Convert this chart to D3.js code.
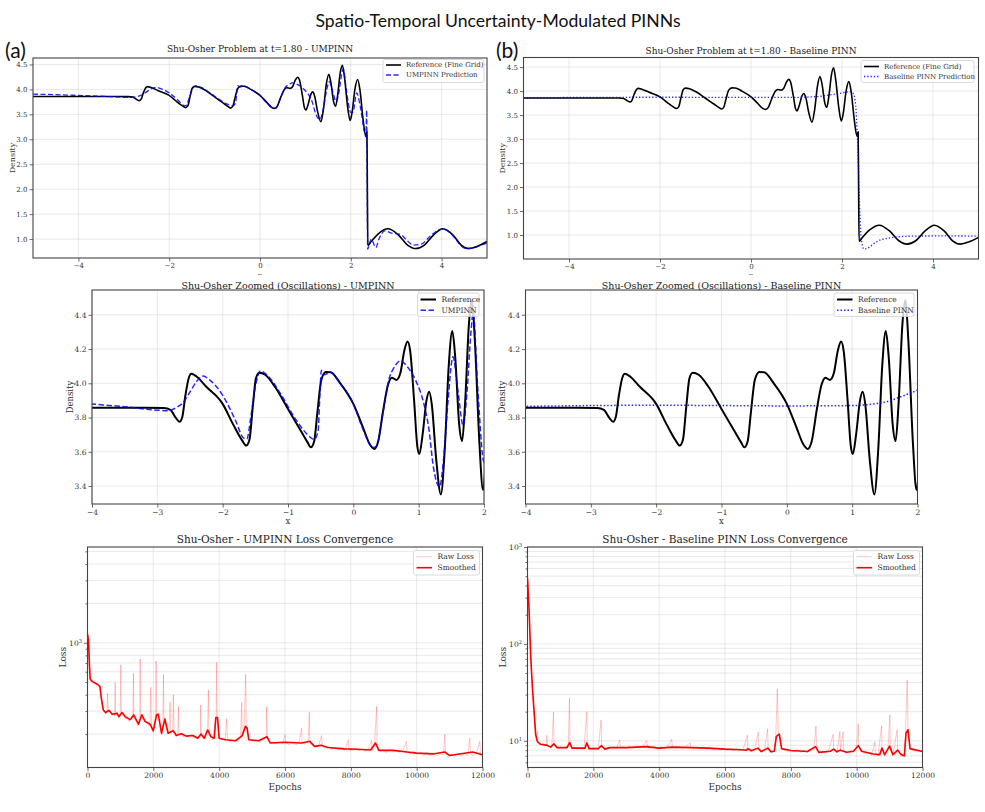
<!DOCTYPE html>
<html>
<head>
<meta charset="utf-8">
<script src="https://cdn.jsdelivr.net/npm/d3@7"></script>
<style>
body { margin: 0; background: #fff; }
svg { display: block; }
</style>
</head>
<body>
<svg id="fig" width="985" height="812"></svg>
<script>
// Reference solution (fine grid), density vs x
const referenceDensity = [
    [-5, 3.857], [-4, 3.857], [-3.2, 3.857], [-2.9, 3.856], [-2.8, 3.845], [-2.72, 3.80], [-2.66, 3.775],
    [-2.62, 3.80], [-2.57, 3.93], [-2.52, 4.03], [-2.48, 4.056], [-2.4, 4.04], [-2.25, 3.98], [-2.0, 3.88],
    [-1.84, 3.76], [-1.7, 3.665], [-1.64, 3.636], [-1.59, 3.67], [-1.54, 3.86], [-1.49, 4.03], [-1.44, 4.061],
    [-1.35, 4.05], [-1.2, 3.98], [-1.0, 3.85], [-0.8, 3.72], [-0.7, 3.655], [-0.65, 3.626], [-0.6, 3.66],
    [-0.55, 3.83], [-0.49, 4.02], [-0.42, 4.066], [-0.35, 4.065], [-0.2, 4.00], [0, 3.88], [0.15, 3.74],
    [0.25, 3.645], [0.32, 3.616], [0.38, 3.66], [0.46, 3.85], [0.53, 3.99], [0.59, 4.033], [0.66, 4.02],
    [0.72, 4.06], [0.78, 4.19], [0.83, 4.244], [0.87, 4.19], [0.93, 3.90], [0.98, 3.63], [1.01, 3.587],
    [1.06, 3.70], [1.12, 3.90], [1.16, 3.951], [1.2, 3.88], [1.27, 3.55], [1.34, 3.351], [1.4, 3.62],
    [1.46, 4.10], [1.515, 4.305], [1.56, 4.15], [1.62, 3.76], [1.665, 3.663], [1.71, 3.88], [1.77, 4.35],
    [1.815, 4.486], [1.86, 4.25], [1.93, 3.65], [1.985, 3.377], [2.03, 3.55], [2.09, 4.0], [2.15, 4.198],
    [2.2, 4.0], [2.27, 3.4], [2.33, 3.06], [2.355, 3.15], [2.365, 2.0], [2.375, 0.87], [2.45, 0.95],
    [2.6, 1.1], [2.82, 1.205], [3.05, 1.08], [3.25, 0.88], [3.43, 0.81], [3.62, 0.88], [3.82, 1.08],
    [4.03, 1.205], [4.25, 1.08], [4.43, 0.88], [4.6, 0.81], [4.8, 0.86], [5.0, 0.95]
];

// UMPINN prediction
const umpinnDensity = [
    [-5, 3.905], [-4.5, 3.895], [-4, 3.879], [-3.5, 3.863], [-3.0, 3.843], [-2.85, 3.84], [-2.7, 3.86],
    [-2.6, 3.89], [-2.5, 3.95], [-2.4, 4.01], [-2.3, 4.042], [-2.2, 4.02], [-2.0, 3.93], [-1.8, 3.78],
    [-1.68, 3.68], [-1.63, 3.675], [-1.57, 3.80], [-1.5, 3.98], [-1.42, 4.072], [-1.3, 4.04], [-1.1, 3.93],
    [-0.9, 3.80], [-0.7, 3.70], [-0.6, 3.672], [-0.54, 3.72], [-0.51, 3.95], [-0.49, 4.075], [-0.45, 4.05],
    [-0.35, 4.064], [-0.2, 4.00], [0, 3.88], [0.15, 3.73], [0.3, 3.625], [0.35, 3.63], [0.45, 3.82],
    [0.55, 4.03], [0.62, 4.09], [0.72, 4.131], [0.82, 4.10], [0.95, 4.02], [1.08, 3.88], [1.15, 3.75],
    [1.23, 3.5], [1.32, 3.395], [1.38, 3.55], [1.45, 3.9], [1.525, 4.155], [1.6, 3.96], [1.68, 3.756],
    [1.74, 3.95], [1.8, 4.3], [1.835, 4.41], [1.9, 4.0], [2.0, 3.54], [2.05, 3.55], [2.13, 3.93],
    [2.2, 3.7], [2.3, 3.15], [2.33, 3.05], [2.35, 3.58], [2.36, 2.5], [2.37, 0.8], [2.45, 1.0],
    [2.55, 0.83], [2.62, 1.0], [2.75, 1.165], [2.9, 1.12], [3.1, 1.09], [3.25, 0.96], [3.38, 0.88],
    [3.55, 0.9], [3.8, 1.1], [4.0, 1.2], [4.2, 1.12], [4.35, 0.95], [4.52, 0.81], [4.7, 0.82],
    [4.85, 0.87], [5.0, 0.92]
];

// Baseline PINN prediction
const baselineDensity = [
    [-5, 3.865], [-4, 3.866], [-3, 3.87], [-2, 3.872], [-1, 3.87], [0, 3.868], [1, 3.87], [1.3, 3.878],
    [1.5, 3.89], [1.7, 3.915], [2.0, 3.96], [2.17, 3.987], [2.25, 3.95], [2.3, 3.7], [2.34, 3.0],
    [2.38, 1.8], [2.42, 0.95], [2.48, 0.71], [2.55, 0.72], [2.7, 0.82], [2.85, 0.9], [3.0, 0.93],
    [3.2, 0.96], [3.5, 0.975], [4.0, 0.98], [4.5, 0.98], [5.0, 0.975]
];

// UMPINN training loss: [epoch, loss]
const umpinnRawLoss = [
    [0, 1250], [25, 1080], [50, 700], [75, 540], [100, 515], [150, 500], [200, 492], [250, 488], [300, 478],
    [350, 470], [400, 420], [430, 360], [460, 318], [500, 300], [550, 285], [590, 300], [607, 410], [625, 295],
    [680, 300], [720, 282], [780, 290], [825, 275], [840, 498], [855, 280], [900, 295], [960, 265], [995, 290],
    [1012, 676], [1030, 285], [1080, 278], [1150, 262], [1200, 275], [1260, 250], [1320, 262], [1380, 268],
    [1396, 584], [1412, 262], [1460, 255], [1520, 232], [1560, 250], [1585, 275], [1599, 750], [1615, 278],
    [1680, 262], [1740, 245], [1800, 250], [1860, 232], [1900, 245], [1923, 456], [1945, 228], [1990, 208],
    [2040, 240], [2070, 280], [2084, 725], [2100, 290], [2150, 272], [2200, 230], [2250, 198], [2290, 240],
    [2307, 573], [2325, 262], [2380, 230], [2440, 200], [2480, 212], [2509, 354], [2530, 205], [2590, 210],
    [2610, 399], [2630, 215], [2690, 192], [2740, 200], [2762, 325], [2780, 196], [2850, 205], [2920, 190],
    [3000, 196], [3080, 188], [3150, 198], [3220, 190], [3300, 185], [3380, 192], [3430, 190], [3440, 334],
    [3455, 200], [3520, 185], [3600, 205], [3650, 220], [3673, 435], [3690, 205], [3750, 190], [3820, 180],
    [3880, 262], [3910, 275], [3926, 707], [3940, 272], [3980, 200], [4030, 182], [4100, 185], [4180, 178],
    [4230, 264], [4250, 180], [4330, 176], [4420, 180], [4500, 174], [4580, 178], [4650, 190], [4685, 351],
    [4700, 195], [4760, 225], [4806, 573], [4825, 228], [4880, 190], [4950, 178], [5050, 176], [5150, 180],
    [5250, 174], [5350, 182], [5430, 192], [5444, 325], [5460, 190], [5530, 172], [5620, 175], [5720, 168],
    [5820, 174], [5920, 170], [6000, 197], [6020, 172], [6120, 166], [6220, 172], [6320, 165], [6420, 170],
    [6506, 222], [6520, 172], [6600, 168], [6700, 175], [6739, 294], [6755, 174], [6820, 165], [6920, 158],
    [7020, 164], [7113, 195], [7130, 162], [7220, 156], [7320, 160], [7420, 154], [7520, 158], [7620, 152],
    [7720, 156], [7820, 150], [7923, 181], [7940, 152], [8040, 148], [8140, 155], [8240, 149], [8340, 153],
    [8440, 147], [8540, 154], [8631, 181], [8650, 150], [8720, 165], [8783, 325], [8800, 168], [8880, 148],
    [8980, 151], [9080, 145], [9180, 152], [9280, 146], [9380, 150], [9480, 144], [9580, 150], [9693, 176],
    [9710, 146], [9810, 142], [9910, 149], [10010, 140], [10110, 146], [10210, 138], [10310, 145], [10410, 137],
    [10510, 144], [10610, 136], [10710, 142], [10810, 140], [10857, 200], [10875, 145], [10950, 132],
    [11050, 140], [11150, 134], [11250, 142], [11350, 135], [11450, 141], [11550, 137], [11616, 186],
    [11630, 142], [11720, 136], [11820, 143], [11920, 176], [11935, 138], [12000, 140]
];

const umpinnSmoothLoss = [
    [0, 1158], [30, 1050], [60, 676], [80, 528], [150, 504], [300, 481], [380, 461], [420, 376], [480, 306],
    [550, 292], [650, 304], [750, 284], [900, 288], [950, 272], [1050, 292], [1150, 271], [1300, 258],
    [1400, 280], [1550, 238], [1650, 281], [1750, 250], [1900, 238], [2000, 212], [2100, 281], [2150, 284],
    [2250, 203], [2350, 261], [2450, 203], [2600, 212], [2700, 195], [2850, 201], [3000, 193], [3200, 195],
    [3350, 186], [3450, 200], [3550, 186], [3650, 215], [3750, 191], [3850, 186], [3900, 268], [3950, 268],
    [4000, 186], [4200, 181], [4500, 178], [4700, 195], [4800, 229], [4850, 222], [4900, 181], [5200, 178],
    [5450, 191], [5550, 171], [6000, 173], [6500, 171], [6750, 176], [6900, 161], [7100, 164], [7300, 158],
    [7800, 154], [8200, 153], [8600, 151], [8750, 171], [8850, 150], [9300, 150], [9700, 146], [10000, 143],
    [10500, 141], [10850, 146], [11000, 137], [11400, 142], [11700, 146], [12000, 139]
];

// Baseline PINN training loss: [epoch, loss]
const baselineRawLoss = [
    [0, 520], [25, 380], [50, 230], [75, 130], [100, 75], [125, 48], [150, 34], [175, 26], [200, 20],
    [225, 15], [250, 12], [275, 10.5], [300, 12.5], [320, 9.6], [380, 9.3], [440, 9.0], [500, 9.4],
    [560, 8.9], [590, 11.4], [610, 8.9], [680, 8.6], [740, 8.8], [790, 19.8], [805, 9.4], [860, 8.7],
    [920, 8.4], [1000, 8.6], [1080, 8.4], [1160, 8.6], [1240, 9.0], [1275, 27.6], [1290, 9.8], [1330, 8.8],
    [1400, 8.3], [1480, 8.6], [1560, 8.3], [1640, 8.5], [1720, 8.3], [1800, 20], [1815, 9.6], [1870, 8.4],
    [1950, 8.2], [2050, 8.5], [2150, 8.2], [2236, 16.4], [2250, 9.0], [2320, 8.3], [2400, 8.6], [2500, 8.4],
    [2600, 8.7], [2700, 8.3], [2800, 10.2], [2820, 8.5], [2900, 8.7], [3000, 8.4], [3100, 8.8], [3200, 8.4],
    [3300, 8.7], [3400, 8.5], [3500, 8.8], [3620, 10], [3640, 8.7], [3750, 8.4], [3850, 8.7], [3950, 8.3],
    [4050, 8.7], [4150, 8.4], [4250, 8.6], [4380, 10.4], [4395, 8.6], [4500, 8.4], [4600, 8.7], [4700, 8.3],
    [4800, 8.6], [4940, 9.6], [4960, 8.5], [5050, 8.3], [5150, 8.6], [5250, 8.3], [5350, 8.5], [5450, 8.2],
    [5550, 8.5], [5650, 8.1], [5750, 8.4], [5850, 8.0], [5950, 8.3], [6050, 8.0], [6150, 8.3], [6250, 7.9],
    [6350, 8.2], [6450, 7.9], [6550, 8.2], [6680, 11.4], [6695, 8.0], [6800, 7.8], [6900, 8.1], [7012, 12.3],
    [7030, 8.0], [7120, 7.6], [7200, 8.0], [7295, 13.3], [7310, 8.2], [7400, 7.5], [7480, 7.8], [7540, 10.5],
    [7589, 34.4], [7620, 12.2], [7680, 10.5], [7720, 8.3], [7800, 8.0], [7900, 7.8], [8000, 7.9], [8100, 7.7],
    [8200, 8.1], [8300, 7.6], [8400, 8.0], [8500, 7.6], [8600, 8.0], [8700, 8.2], [8763, 14.2], [8780, 8.6],
    [8860, 7.5], [8950, 7.9], [9050, 7.4], [9150, 8.0], [9289, 11.7], [9305, 8.1], [9400, 7.5], [9490, 12.5],
    [9505, 8.0], [9591, 12.4], [9605, 7.8], [9700, 7.4], [9800, 7.9], [9900, 7.6], [10000, 8.5], [10047, 15],
    [10065, 8.8], [10150, 7.8], [10250, 7.3], [10350, 7.6], [10450, 7.1], [10553, 9.8], [10570, 7.3],
    [10650, 7.0], [10756, 14.3], [10770, 8.4], [10850, 7.0], [10950, 8.2], [11009, 18.5], [11025, 8.7],
    [11100, 7.0], [11231, 13], [11245, 8.0], [11350, 6.9], [11440, 6.8], [11480, 11], [11535, 42.2],
    [11560, 13.5], [11620, 9], [11700, 8.0], [11800, 7.8], [11900, 8.0], [12000, 7.7]
];

const baselineSmoothLoss = [
    [0, 475], [50, 215], [100, 71], [150, 35], [200, 20], [250, 11.5], [300, 9.8], [400, 9.2], [600, 8.96],
    [700, 8.6], [800, 9.3], [900, 8.5], [1200, 8.5], [1280, 9.6], [1350, 8.4], [1750, 8.4], [1800, 9.5],
    [1870, 8.3], [2150, 8.3], [2250, 8.9], [2350, 8.2], [2500, 8.5], [3000, 8.5], [3600, 8.7], [4000, 8.4],
    [4400, 8.6], [5000, 8.5], [5500, 8.4], [6000, 8.2], [6500, 8.08], [6650, 8.0], [6700, 8.3], [6800, 7.9],
    [7000, 8.4], [7100, 7.76], [7300, 8.4], [7400, 7.7], [7500, 7.8], [7560, 11.1], [7650, 11.7], [7720, 8.3],
    [8000, 7.95], [8500, 7.76], [8750, 8.7], [8850, 7.6], [9200, 7.8], [9300, 8.2], [9400, 7.7], [9500, 8.0],
    [9700, 7.6], [9900, 7.8], [10050, 8.9], [10150, 7.8], [10500, 7.3], [10700, 7.2], [10770, 8.4],
    [10850, 7.2], [11000, 8.8], [11100, 7.2], [11250, 8.0], [11350, 7.2], [11450, 7.0], [11500, 12.0],
    [11560, 13.0], [11620, 8.3], [12000, 7.76]
];

// Tick values
const fullXTicks = [-4, -2, 0, 2, 4];
const fullYTicks = [1.0, 1.5, 2.0, 2.5, 3.0, 3.5, 4.0, 4.5];
const zoomXTicks = [-4, -3, -2, -1, 0, 1, 2];
const zoomYTicks = [3.4, 3.6, 3.8, 4.0, 4.2, 4.4];
const epochTicks = [0, 2000, 4000, 6000, 8000, 10000, 12000];
const umpinnLossTicks = [1000];
const baselineLossTicks = [10, 100, 1000];

const serif = '"DejaVu Serif", serif';
const sans = 'Lato, "Open Sans", sans-serif';
const svg = d3.select('#fig');
let clipId = 0;

svg.append('rect').attr('width', 985).attr('height', 812).attr('fill', '#fff');

function styleAxis(g, size) {
    g.select('.domain').remove();
    g.selectAll('.tick line').attr('stroke', '#444').attr('stroke-width', 0.8);
    g.selectAll('.tick text')
        .attr('fill', '#333')
        .style('font-family', serif)
        .style('font-size', size + 'px');
}

function drawPanel(opt) {
    const g = svg.append('g');
    const b = opt.box;
    const x = d3.scaleLinear().domain(opt.xDomain).range([b.left, b.right]);
    const y = (opt.log ? d3.scaleLog() : d3.scaleLinear()).domain(opt.yDomain).range([b.bottom, b.top]);

    // Grid
    const grid = g.append('g').attr('stroke', '#b8b8b8').attr('stroke-opacity', 0.45).attr('stroke-width', 0.7);
    opt.xTicks.forEach(v => grid.append('line')
        .attr('x1', x(v)).attr('x2', x(v)).attr('y1', b.top).attr('y2', b.bottom));
    const yGrid = opt.log ? y.ticks() : opt.yTicks;
    yGrid.forEach(v => grid.append('line')
        .attr('x1', b.left).attr('x2', b.right).attr('y1', y(v)).attr('y2', y(v)));

    // Clip
    const id = 'clip' + (clipId++);
    svg.append('clipPath').attr('id', id).append('rect')
        .attr('x', b.left).attr('y', b.top)
        .attr('width', b.right - b.left).attr('height', b.bottom - b.top);

    const lines = g.append('g').attr('clip-path', `url(#${id})`);
    opt.series.forEach(s => {
        const line = d3.line()
            .x(d => x(d[0]))
            .y(d => y(d[1]))
            .curve(s.curve || d3.curveLinear);
        lines.append('path')
            .datum(s.data)
            .attr('d', line)
            .attr('fill', 'none')
            .attr('stroke', s.color)
            .attr('stroke-opacity', s.opacity || 1)
            .attr('stroke-width', s.width)
            .attr('stroke-dasharray', s.dash || null)
            .attr('stroke-linejoin', 'round');
    });

    // Axes
    g.append('g')
        .attr('transform', `translate(0,${b.bottom})`)
        .call(d3.axisBottom(x).tickValues(opt.xTicks).tickSize(3.5).tickPadding(2).tickFormat(opt.xFormat))
        .call(styleAxis, opt.tickSize);

    if (opt.log) {
        g.append('g')
            .attr('transform', `translate(${b.left},0)`)
            .call(d3.axisLeft(y).tickValues(y.ticks().filter(v => !opt.yTicks.includes(v))).tickSize(2).tickFormat(''))
            .call(styleAxis, opt.tickSize);
        const major = g.append('g')
            .attr('transform', `translate(${b.left},0)`)
            .call(d3.axisLeft(y).tickValues(opt.yTicks).tickSize(3.5).tickPadding(2).tickFormat(''))
            .call(styleAxis, opt.tickSize);
        major.selectAll('.tick').each(function (d) {
            const t = d3.select(this).select('text');
            t.append('tspan').text('10');
            t.append('tspan')
                .attr('dy', '-0.5em')
                .style('font-size', (opt.tickSize * 0.7) + 'px')
                .text(Math.round(Math.log10(d)));
        });
    } else {
        g.append('g')
            .attr('transform', `translate(${b.left},0)`)
            .call(d3.axisLeft(y).tickValues(opt.yTicks).tickSize(3.5).tickPadding(2).tickFormat(opt.yFormat))
            .call(styleAxis, opt.tickSize);
    }

    // Frame
    g.append('rect')
        .attr('x', b.left).attr('y', b.top)
        .attr('width', b.right - b.left).attr('height', b.bottom - b.top)
        .attr('fill', 'none').attr('stroke', '#444').attr('stroke-width', 1.1);

    // Title and labels
    g.append('text')
        .attr('x', (b.left + b.right) / 2).attr('y', opt.titleY)
        .attr('text-anchor', 'middle').attr('dominant-baseline', 'central')
        .attr('fill', '#222')
        .style('font-family', serif).style('font-size', opt.titleSize + 'px')
        .text(opt.title);

    if (opt.xLabel) {
        g.append('text')
            .attr('x', (b.left + b.right) / 2).attr('y', opt.xLabelY)
            .attr('text-anchor', 'middle').attr('dominant-baseline', 'central')
            .attr('fill', '#333')
            .style('font-family', serif).style('font-size', (opt.xLabelSize || opt.labelSize) + 'px')
            .text(opt.xLabel);
    }
    g.append('text')
        .attr('transform', `translate(${opt.yLabelX},${(b.top + b.bottom) / 2}) rotate(-90)`)
        .attr('text-anchor', 'middle').attr('dominant-baseline', 'central')
        .attr('fill', '#333')
        .style('font-family', serif).style('font-size', opt.labelSize + 'px')
        .text(opt.yLabel);

    // Legend
    const lg = opt.legend;
    const leg = g.append('g');
    leg.append('rect')
        .attr('x', lg.x).attr('y', lg.y).attr('width', lg.w).attr('height', lg.h)
        .attr('rx', 2)
        .attr('fill', '#fff').attr('fill-opacity', 0.8)
        .attr('stroke', '#d0d0d0').attr('stroke-width', 0.8);
    opt.series.forEach((s, i) => {
        const cy = lg.y + lg.first + i * lg.step;
        leg.append('line')
            .attr('x1', lg.x + 3).attr('x2', lg.x + 3 + lg.sample)
            .attr('y1', cy).attr('y2', cy)
            .attr('stroke', s.color)
            .attr('stroke-opacity', s.opacity || 1)
            .attr('stroke-width', s.width)
            .attr('stroke-dasharray', s.dash || null);
        leg.append('text')
            .attr('x', lg.x + 3 + lg.sample + lg.gap).attr('y', cy)
            .attr('dominant-baseline', 'central')
            .attr('fill', '#333')
            .style('font-family', serif).style('font-size', lg.size + 'px')
            .text(s.name);
    });
}

const fmt1 = d3.format('.1f');
const fmtInt = d3.format('d');

// Figure title and panel tags
svg.append('text')
    .attr('x', 498).attr('y', 20)
    .attr('text-anchor', 'middle').attr('dominant-baseline', 'central')
    .attr('fill', '#111')
    .style('font-family', sans).style('font-size', '17.6px')
    .text('Spatio-Temporal Uncertainty-Modulated PINNs');
svg.append('text').attr('x', 5).attr('y', 58)
    .attr('fill', '#111').style('font-family', sans).style('font-size', '21px').text('(a)');
svg.append('text').attr('x', 496).attr('y', 58)
    .attr('fill', '#111').style('font-family', sans).style('font-size', '21px').text('(b)');

// Row 1: full domain
drawPanel({
    box: { left: 33, right: 487, top: 58, bottom: 258 },
    xDomain: [-5, 5], yDomain: [0.62, 4.63],
    xTicks: fullXTicks, yTicks: fullYTicks, xFormat: fmtInt, yFormat: fmt1,
    tickSize: 7, titleSize: 9, labelSize: 8, xLabelSize: 7,
    title: 'Shu-Osher Problem at t=1.80 - UMPINN', titleY: 49,
    xLabel: 'x', xLabelY: 275.7, yLabel: 'Density', yLabelX: 12,
    series: [
        { name: 'Reference (Fine Grid)', data: referenceDensity, color: '#000', width: 1.6, curve: d3.curveMonotoneX },
        { name: 'UMPINN Prediction', data: umpinnDensity, color: '#0000ff', width: 1.3, dash: '5,2.5', opacity: 0.85, curve: d3.curveMonotoneX }
    ],
    legend: { x: 383, y: 59.5, w: 101, h: 23, first: 5.5, step: 10, sample: 15, gap: 5, size: 7 }
});
drawPanel({
    box: { left: 523.5, right: 978.5, top: 57.5, bottom: 259 },
    xDomain: [-5, 5], yDomain: [0.5, 4.7],
    xTicks: fullXTicks, yTicks: fullYTicks, xFormat: fmtInt, yFormat: fmt1,
    tickSize: 7, titleSize: 9, labelSize: 8, xLabelSize: 7,
    title: 'Shu-Osher Problem at t=1.80 - Baseline PINN', titleY: 51,
    xLabel: 'x', xLabelY: 275.7, yLabel: 'Density', yLabelX: 502,
    series: [
        { name: 'Reference (Fine Grid)', data: referenceDensity, color: '#000', width: 1.6, curve: d3.curveMonotoneX },
        { name: 'Baseline PINN Prediction', data: baselineDensity, color: '#0000ff', width: 1.3, dash: '1.3,2', opacity: 0.85, curve: d3.curveMonotoneX }
    ],
    legend: { x: 861, y: 60.5, w: 113, h: 22, first: 6, step: 10, sample: 15, gap: 5, size: 7 }
});

// Second image row covers the bottom of the first row's x label
svg.append('rect').attr('x', 0).attr('y', 275).attr('width', 985).attr('height', 251).attr('fill', '#fff');

// Row 2: zoom on oscillations
drawPanel({
    box: { left: 92, right: 484, top: 290, bottom: 504 },
    xDomain: [-4, 2], yDomain: [3.295, 4.545],
    xTicks: zoomXTicks, yTicks: zoomYTicks, xFormat: fmtInt, yFormat: fmt1,
    tickSize: 7.5, titleSize: 9.5, labelSize: 8.5,
    title: 'Shu-Osher Zoomed (Oscillations) - UMPINN', titleY: 285.5,
    xLabel: 'x', xLabelY: 521, yLabel: 'Density', yLabelX: 70,
    series: [
        { name: 'Reference', data: referenceDensity, color: '#000', width: 2, curve: d3.curveMonotoneX },
        { name: 'UMPINN', data: umpinnDensity, color: '#0000ff', width: 1.5, dash: '5.5,2.5', opacity: 0.85, curve: d3.curveMonotoneX }
    ],
    legend: { x: 417.5, y: 293, w: 61.5, h: 23.5, first: 6.5, step: 10.7, sample: 15.5, gap: 5.5, size: 7.5 }
});
drawPanel({
    box: { left: 525.5, right: 917.5, top: 290, bottom: 504 },
    xDomain: [-4, 2], yDomain: [3.295, 4.545],
    xTicks: zoomXTicks, yTicks: zoomYTicks, xFormat: fmtInt, yFormat: fmt1,
    tickSize: 7.5, titleSize: 9.5, labelSize: 8.5,
    title: 'Shu-Osher Zoomed (Oscillations) - Baseline PINN', titleY: 285.5,
    xLabel: 'x', xLabelY: 521, yLabel: 'Density', yLabelX: 502,
    series: [
        { name: 'Reference', data: referenceDensity, color: '#000', width: 2, curve: d3.curveMonotoneX },
        { name: 'Baseline PINN', data: baselineDensity, color: '#0000ff', width: 1.5, dash: '1.5,2', opacity: 0.85, curve: d3.curveMonotoneX }
    ],
    legend: { x: 834, y: 293, w: 80, h: 23.5, first: 6.5, step: 10.7, sample: 15.5, gap: 5.5, size: 7.5 }
});

// Row 3: loss convergence
drawPanel({
    box: { left: 87.5, right: 482.5, top: 547, bottom: 767.5 },
    xDomain: [0, 12000], yDomain: [111, 5400], log: true,
    xTicks: epochTicks, yTicks: umpinnLossTicks, xFormat: fmtInt,
    tickSize: 7.5, titleSize: 10.5, labelSize: 9,
    title: 'Shu-Osher - UMPINN Loss Convergence', titleY: 539,
    xLabel: 'Epochs', xLabelY: 786.5, yLabel: 'Loss', yLabelX: 63,
    series: [
        { name: 'Raw Loss', data: umpinnRawLoss, color: '#ff0000', width: 0.8, opacity: 0.28 },
        { name: 'Smoothed', data: umpinnSmoothLoss, color: '#ff0000', width: 1.6 }
    ],
    legend: { x: 413.5, y: 550.5, w: 66, h: 24.5, first: 6.2, step: 11, sample: 15.5, gap: 5.5, size: 7.5 }
});
drawPanel({
    box: { left: 527.5, right: 922.5, top: 547, bottom: 767.5 },
    xDomain: [0, 12000], yDomain: [5.3, 1000], log: true,
    xTicks: epochTicks, yTicks: baselineLossTicks, xFormat: fmtInt,
    tickSize: 7.5, titleSize: 10.5, labelSize: 9,
    title: 'Shu-Osher - Baseline PINN Loss Convergence', titleY: 539,
    xLabel: 'Epochs', xLabelY: 786.5, yLabel: 'Loss', yLabelX: 502.5,
    series: [
        { name: 'Raw Loss', data: baselineRawLoss, color: '#ff0000', width: 0.8, opacity: 0.28 },
        { name: 'Smoothed', data: baselineSmoothLoss, color: '#ff0000', width: 1.6 }
    ],
    legend: { x: 853.5, y: 550.5, w: 66, h: 24.5, first: 6.2, step: 11, sample: 15.5, gap: 5.5, size: 7.5 }
});
</script>
</body>
</html>
